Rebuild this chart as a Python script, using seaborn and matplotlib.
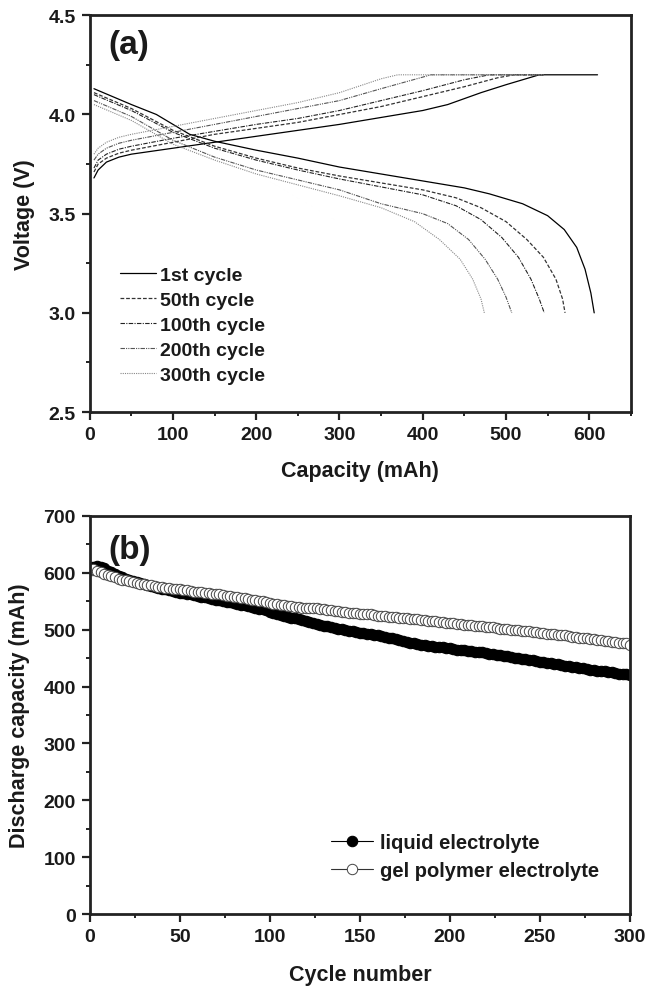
import matplotlib
matplotlib.use("Agg")
import matplotlib.pyplot as plt
import seaborn as sns
from matplotlib.ticker import MultipleLocator, FormatStrFormatter

sns.set_theme(style="white")
plt.rcParams['font.family'] = ['Liberation Sans', 'DejaVu Sans']
plt.rcParams['font.weight'] = 'bold'

# ---------------- Panel (a) data ----------------
cycle_labels = ["1st cycle", "50th cycle", "100th cycle", "200th cycle", "300th cycle"]

charge_cap = [
    [5, 10, 20, 35, 50, 100, 150, 200, 250, 300, 350, 400, 430, 470, 500, 540, 610],
    [5, 10, 20, 35, 50, 100, 150, 200, 250, 300, 350, 400, 450, 490, 510, 545],
    [5, 10, 20, 35, 50, 100, 150, 200, 250, 300, 350, 400, 450, 480, 545],
    [5, 10, 20, 35, 50, 100, 150, 200, 250, 300, 350, 410, 545],
    [5, 10, 20, 35, 50, 100, 150, 200, 250, 300, 350, 370, 545],
]
charge_v = [
    [3.68, 3.72, 3.76, 3.785, 3.80, 3.83, 3.86, 3.89, 3.92, 3.95, 3.985, 4.02, 4.05, 4.11, 4.15, 4.20, 4.20],
    [3.71, 3.75, 3.78, 3.805, 3.82, 3.86, 3.90, 3.93, 3.96, 4.00, 4.04, 4.09, 4.14, 4.185, 4.20, 4.20],
    [3.73, 3.77, 3.80, 3.825, 3.84, 3.88, 3.915, 3.95, 3.98, 4.02, 4.07, 4.12, 4.175, 4.20, 4.20],
    [3.77, 3.80, 3.83, 3.855, 3.87, 3.91, 3.95, 3.99, 4.03, 4.07, 4.13, 4.20, 4.20],
    [3.80, 3.83, 3.86, 3.885, 3.90, 3.94, 3.98, 4.02, 4.06, 4.11, 4.18, 4.20, 4.20],
]
discharge_cap = [
    [5, 50, 80, 100, 120, 150, 200, 250, 300, 350, 400, 450, 480, 520, 550, 570, 585, 595, 602, 606],
    [5, 50, 100, 150, 200, 250, 300, 350, 400, 440, 470, 500, 525, 545, 560, 568, 571],
    [5, 50, 100, 150, 200, 250, 300, 350, 400, 440, 470, 495, 515, 530, 540, 546],
    [5, 50, 100, 150, 200, 250, 300, 350, 400, 430, 455, 475, 490, 500, 507],
    [5, 50, 100, 150, 200, 250, 300, 350, 390, 420, 445, 460, 470, 474],
]
discharge_v = [
    [4.13, 4.05, 4.00, 3.95, 3.90, 3.865, 3.82, 3.78, 3.735, 3.70, 3.665, 3.63, 3.60, 3.55, 3.49, 3.42, 3.33, 3.22, 3.10, 3.00],
    [4.11, 4.03, 3.92, 3.84, 3.78, 3.73, 3.69, 3.655, 3.62, 3.58, 3.53, 3.46, 3.37, 3.28, 3.17, 3.07, 3.00],
    [4.10, 4.02, 3.91, 3.83, 3.77, 3.72, 3.675, 3.635, 3.595, 3.54, 3.47, 3.38, 3.28, 3.17, 3.07, 3.00],
    [4.07, 3.99, 3.87, 3.785, 3.72, 3.67, 3.62, 3.55, 3.50, 3.45, 3.37, 3.27, 3.17, 3.08, 3.00],
    [4.05, 3.97, 3.85, 3.77, 3.70, 3.645, 3.59, 3.53, 3.46, 3.37, 3.27, 3.17, 3.07, 3.00],
]

# ---------------- Panel (b) data ----------------
cycles = [1] + list(range(2, 301, 2))
liquid = [608,
    610, 612, 611, 608, 604, 601, 598, 595, 592, 590, 588, 586, 584, 582, 580, 578, 577, 575, 574, 572,
    571, 570, 568, 567, 565, 564, 563, 562, 561, 560, 558, 557, 556, 554, 553, 552, 550, 549, 548, 547,
    545, 544, 543, 541, 540, 539, 537, 536, 534, 532, 530, 528, 526, 524, 523, 521, 520, 519, 517, 516,
    514, 512, 510, 509, 507, 506, 505, 503, 502, 501, 500, 498, 497, 496, 495, 494, 493, 492, 491, 490,
    489, 487, 486, 485, 483, 482, 480, 479, 477, 476, 475, 474, 473, 472, 471, 470, 470, 469, 468, 467,
    466, 465, 464, 464, 463, 462, 461, 461, 460, 459, 458, 457, 456, 455, 454, 453, 452, 451, 450, 449,
    448, 447, 446, 445, 444, 443, 442, 441, 440, 439, 438, 437, 436, 435, 434, 433, 432, 431, 430, 429,
    428, 428, 427, 426, 425, 424, 423, 423, 422, 421]
gel = [605,
    606, 604, 601, 598, 596, 594, 592, 590, 588, 587, 585, 584, 582, 581, 580, 579, 578, 577, 576, 575,
    574, 573, 572, 572, 571, 570, 569, 568, 567, 567, 566, 565, 564, 563, 563, 562, 561, 560, 559, 558,
    557, 556, 555, 554, 553, 552, 551, 550, 549, 547, 546, 545, 544, 543, 542, 541, 540, 540, 539, 539,
    539, 539, 538, 537, 536, 535, 534, 533, 533, 532, 531, 530, 530, 529, 528, 528, 527, 527, 526, 525,
    524, 524, 523, 522, 522, 521, 520, 520, 519, 519, 518, 517, 517, 516, 515, 515, 514, 513, 512, 512,
    511, 510, 510, 509, 508, 508, 507, 506, 506, 505, 504, 504, 503, 502, 502, 501, 500, 500, 499, 498,
    498, 497, 496, 496, 495, 494, 493, 493, 492, 491, 490, 490, 489, 488, 487, 486, 486, 485, 484, 483,
    482, 482, 481, 480, 479, 478, 477, 477, 476, 474]
series_b = ["liquid electrolyte", "gel polymer electrolyte"]

# ---------------- Figure ----------------
fig = plt.figure(figsize=(6.46, 9.87), dpi=100)
ax1 = fig.add_axes([0.139, 0.5815, 0.8375, 0.402])
ax2 = fig.add_axes([0.139, 0.0729, 0.836, 0.4033])

styles = [
    dict(color="black", linestyle="-", linewidth=0.9),
    dict(color="#333333", linestyle=(0, (3, 1.5)), linewidth=0.9),
    dict(color="#222222", linestyle=(0, (4, 1.2, 1, 1.2)), linewidth=0.8),
    dict(color="#555555", linestyle=(0, (4, 1, 1, 1, 1, 1)), linewidth=0.8),
    dict(color="#888888", linestyle=(0, (1, 1)), linewidth=0.8),
]

for i, lab in enumerate(cycle_labels):
    sns.lineplot(x=charge_cap[i], y=charge_v[i], ax=ax1, sort=False, estimator=None,
                 label=lab, **styles[i])
    sns.lineplot(x=discharge_cap[i], y=discharge_v[i], ax=ax1, sort=False, estimator=None,
                 **styles[i])

ax1.set_xlim(0, 650)
ax1.set_ylim(2.5, 4.5)
ax1.xaxis.set_major_locator(MultipleLocator(100))
ax1.xaxis.set_minor_locator(MultipleLocator(50))
ax1.yaxis.set_major_locator(MultipleLocator(0.5))
ax1.yaxis.set_minor_locator(MultipleLocator(0.25))
ax1.set_xticks([0, 100, 200, 300, 400, 500, 600])
ax1.set_xlabel("Capacity (mAh)", fontsize=15.5, fontweight="bold", labelpad=12)
ax1.set_ylabel("Voltage (V)", fontsize=15.5, fontweight="bold", labelpad=10)
ax1.text(0.035, 0.965, "(a)", transform=ax1.transAxes, fontsize=24, fontweight="bold",
         va="top", ha="left", color="#1a1a1a")
leg1 = ax1.legend(loc="lower left", bbox_to_anchor=(0.055, 0.07), frameon=False,
                  fontsize=14, handlelength=1.9, handletextpad=0.2, labelspacing=0.38,
                  borderaxespad=0, borderpad=0)
for t in leg1.get_texts():
    t.set_fontweight("bold")
    t.set_color("#1a1a1a")

# Panel (b)
sns.lineplot(x=cycles, y=liquid, ax=ax2, color="black", marker="o", markersize=7.5,
             markerfacecolor="black", markeredgecolor="black", markeredgewidth=0.8,
             linewidth=0.8, label=series_b[0], sort=False, estimator=None)
sns.lineplot(x=cycles, y=gel, ax=ax2, color="#333333", marker="o", markersize=7.5,
             markerfacecolor="white", markeredgecolor="#444444", markeredgewidth=0.7,
             linewidth=0.8, label=series_b[1], sort=False, estimator=None)
ax2.set_xlim(0, 300)
ax2.set_ylim(0, 700)
ax2.xaxis.set_major_locator(MultipleLocator(50))
ax2.xaxis.set_minor_locator(MultipleLocator(25))
ax2.yaxis.set_major_locator(MultipleLocator(100))
ax2.yaxis.set_minor_locator(MultipleLocator(50))
ax2.set_xlabel("Cycle number", fontsize=15.5, fontweight="bold", labelpad=14)
ax2.set_ylabel("Discharge capacity (mAh)", fontsize=15.5, fontweight="bold", labelpad=10)
ax2.text(0.035, 0.955, "(b)", transform=ax2.transAxes, fontsize=24, fontweight="bold",
         va="top", ha="left", color="#1a1a1a")
leg2 = ax2.legend(loc="lower left", bbox_to_anchor=(0.446, 0.085), frameon=False,
                  fontsize=14.5, handlelength=2.1, handletextpad=0.35, labelspacing=0.47,
                  borderaxespad=0, borderpad=0)
for t in leg2.get_texts():
    t.set_fontweight("bold")
    t.set_color("#1a1a1a")

for ax in (ax1, ax2):
    for s in ax.spines.values():
        s.set_visible(True)
        s.set_color("#222222")
        s.set_linewidth(2.0)
    ax.tick_params(which="major", direction="out", length=6, width=1.6, color="#222222",
                   labelsize=14, labelcolor="#1a1a1a", bottom=True, left=True,
                   top=False, right=False, pad=4)
    ax.tick_params(which="minor", direction="out", length=3, width=1.4, color="#222222",
                   bottom=True, left=True, top=False, right=False)
    for lab in ax.get_xticklabels() + ax.get_yticklabels():
        lab.set_fontweight("bold")
    ax.xaxis.label.set_color("#1a1a1a")
    ax.yaxis.label.set_color("#1a1a1a")

ax1.yaxis.set_major_formatter(FormatStrFormatter("%.1f"))

fig.savefig("out.png", dpi=100)
